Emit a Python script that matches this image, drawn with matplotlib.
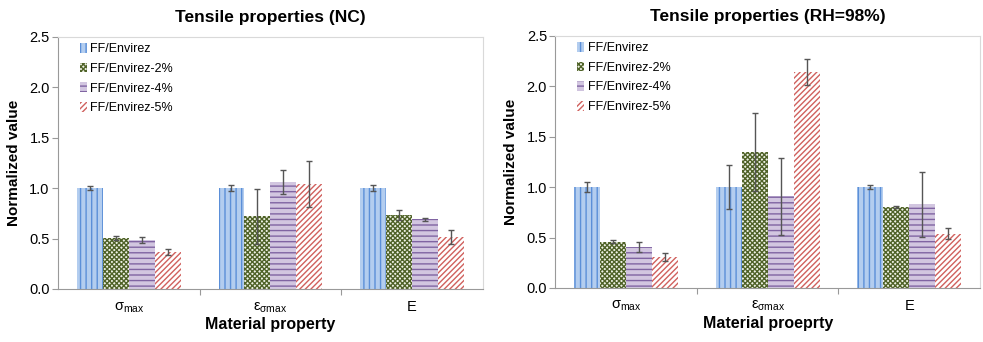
import matplotlib
matplotlib.use("Agg")
import matplotlib.pyplot as plt
import numpy as np

plt.rcParams['font.family'] = ['Liberation Sans', 'DejaVu Sans']
plt.rcParams['mathtext.fontset'] = 'custom'
plt.rcParams['mathtext.rm'] = 'Liberation Sans'
plt.rcParams['mathtext.default'] = 'regular'
plt.rcParams['hatch.linewidth'] = 1.0

properties = [r'$\sigma_{max}$', r'$\varepsilon_{\sigma max}$', 'E']
series = ['FF/Envirez', 'FF/Envirez-2%', 'FF/Envirez-4%', 'FF/Envirez-5%']

# normalized values, rows = series, cols = property
nc_values = [[1.00, 1.00, 1.00],
             [0.51, 0.72, 0.73],
             [0.49, 1.06, 0.69],
             [0.37, 1.04, 0.52]]
nc_errors = [[0.02, 0.03, 0.03],
             [0.02, 0.27, 0.05],
             [0.03, 0.12, 0.015],
             [0.03, 0.23, 0.07]]

rh_values = [[1.00, 1.00, 1.00],
             [0.46, 1.35, 0.80],
             [0.41, 0.91, 0.83],
             [0.31, 2.14, 0.54]]
rh_errors = [[0.05, 0.22, 0.02],
             [0.015, 0.39, 0.01],
             [0.05, 0.38, 0.32],
             [0.04, 0.13, 0.05]]

# (face, hatch colour, hatch)
styles = [('#b3cdef', '#5b8fd8', '|||'),
          ('#eef1e4', '#4f6228', 'xxxxxxx'),
          ('#d2c6e0', '#8064a2', '---'),
          ('#ffffff', '#d0605d', '//////')]


def draw_panel(ax, values, errors, title, xlabel):
    x = np.arange(len(properties))
    w = 0.183
    for i, name in enumerate(series):
        face, hcol, hatch = styles[i]
        ax.bar(x + (i - 1.5) * w, values[i], w, color=face, edgecolor=hcol,
               hatch=hatch, linewidth=0, label=name,
               yerr=errors[i], error_kw=dict(ecolor='#555555', elinewidth=1,
                                             capsize=2.5, capthick=1))
    ax.set_xlim(-0.5, 2.5)
    ax.set_ylim(0, 2.5)
    ax.set_yticks(np.arange(0, 2.51, 0.5))
    ax.set_yticklabels([f'{v:.1f}' for v in np.arange(0, 2.51, 0.5)])
    ax.set_xticks([0.5, 1.5])
    ax.set_xticklabels([])
    ax.set_xticks(x, minor=True)
    ax.set_xticklabels(properties, minor=True)
    ax.tick_params(axis='x', which='minor', length=0, pad=8, labelsize=10.5)
    ax.tick_params(axis='x', which='major', length=4, color='#999999')
    ax.tick_params(axis='y', length=4, color='#999999', labelsize=10.5, pad=2)
    for s in ['left', 'bottom']:
        ax.spines[s].set_color('#999999')
    for s in ['top', 'right']:
        ax.spines[s].set_color('#d9d9d9')
    ax.set_title(title, fontsize=12.5, fontweight='bold', pad=11)
    ax.set_xlabel(xlabel, fontsize=11.5, fontweight='bold', labelpad=2)
    ax.set_ylabel('Normalized value', fontsize=11, fontweight='bold', labelpad=6)
    ax.legend(loc='upper left', frameon=False, fontsize=9, handlelength=0.55,
              handleheight=0.8, handletextpad=0.3, labelspacing=0.6,
              bbox_to_anchor=(0.025, 1.02))


fig = plt.figure(figsize=(9.83, 3.42), dpi=100)
ax1 = fig.add_axes([0.059, 0.155, 0.432, 0.737])
ax2 = fig.add_axes([0.565, 0.158, 0.432, 0.737])
draw_panel(ax1, nc_values, nc_errors, 'Tensile properties (NC)', 'Material property')
draw_panel(ax2, rh_values, rh_errors, 'Tensile properties (RH=98%)', 'Material proeprty')

fig.savefig('out.png', dpi=100)
